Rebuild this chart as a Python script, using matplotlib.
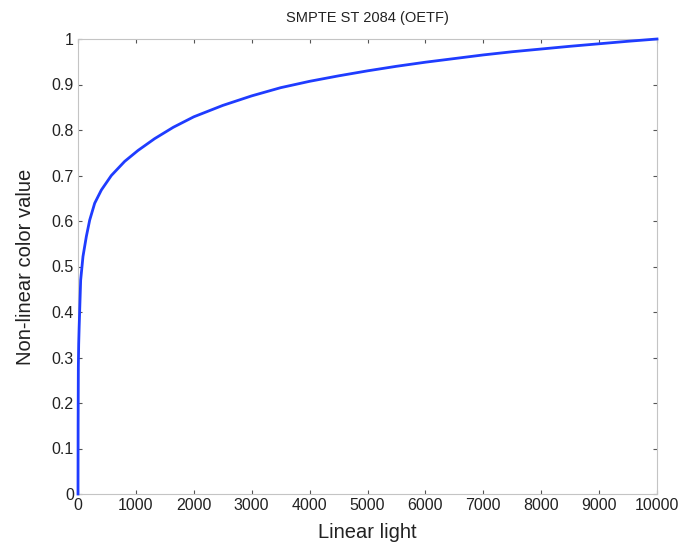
import matplotlib
matplotlib.use("Agg")
import matplotlib.pyplot as plt

# values
linear_light = [0, 2, 6, 12, 20, 46, 86, 144, 202, 288, 403, 576, 806, 1036,
                1324, 1646, 2000, 2500, 3000, 3500, 4000, 4500, 5000, 5500,
                6000, 6500, 7000, 7500, 8000, 8500, 9000, 9500, 10000]
nonlinear = [0, 0.15, 0.28, 0.33, 0.367, 0.47, 0.522, 0.566, 0.602, 0.639,
             0.668, 0.700, 0.731, 0.755, 0.781, 0.806, 0.829, 0.854, 0.875,
             0.893, 0.907, 0.919, 0.930, 0.940, 0.949, 0.957, 0.965, 0.972,
             0.978, 0.984, 0.9895, 0.995, 1.0]

x_ticks = list(range(0, 10001, 1000))
y_ticks = [0, 0.1, 0.2, 0.3, 0.4, 0.5, 0.6, 0.7, 0.8, 0.9, 1]
y_tick_labels = ["0", "0.1", "0.2", "0.3", "0.4", "0.5", "0.6", "0.7", "0.8", "0.9", "1"]

plt.rcParams['font.family'] = ['Liberation Sans', 'DejaVu Sans']

fig = plt.figure(figsize=(6.93, 5.45), dpi=100)
ax = fig.add_axes([78/693, 1 - 494/545, (657-78)/693, (494-39)/545])

ax.plot(linear_light, nonlinear, color='#1f3cff', linewidth=2.0,
        solid_joinstyle='round', zorder=3, clip_on=False)

ax.set_xlim(0, 10000)
ax.set_ylim(0, 1)
ax.set_xticks(x_ticks)
ax.set_xticklabels([str(t) for t in x_ticks])
ax.set_yticks(y_ticks)
ax.set_yticklabels(y_tick_labels)

for s in ax.spines.values():
    s.set_color('#c4c4c4')
    s.set_linewidth(0.8)

ax.tick_params(direction='in', length=3, width=0.8, color='#555555',
               top=True, right=True, labelsize=11.5, pad=3, labelcolor='#222222')

ax.set_title("SMPTE ST 2084 (OETF)", fontsize=10.5, color='#222222', pad=12)
ax.set_xlabel("Linear light", fontsize=14.5, color='#222222', labelpad=7)
ax.set_ylabel("Non-linear color value", fontsize=14.5, color='#222222', labelpad=12)

fig.savefig("out.png", dpi=100, facecolor='white')
